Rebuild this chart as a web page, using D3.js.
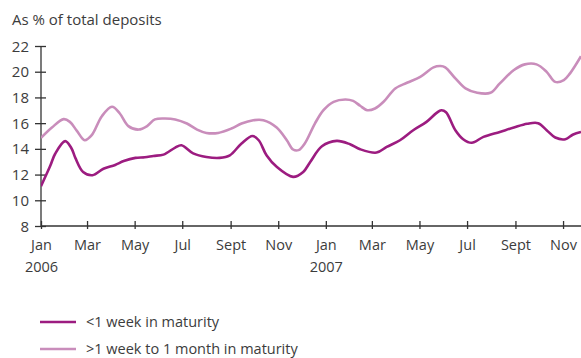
<!DOCTYPE html>
<html lang="en">
<head>
<meta charset="UTF-8">
<title>Deposits by maturity</title>
<script src="https://d3js.org/d3.v7.min.js"></script>
<style>
  body { margin: 0; background: #fff; }
  svg text { font-family: "Open Sans", "Liberation Sans", sans-serif; fill: #3c3c3c; }
  .axis path, .axis line { stroke: #333; stroke-width: 1.3; }
</style>
</head>
<body>
<svg width="581" height="358"></svg>
<script>
// data
const weekDates = ['2006-01-01','2006-01-13','2006-01-19','2006-02-01','2006-02-09','2006-02-14','2006-02-24','2006-03-08',
  '2006-03-22','2006-04-06','2006-04-17','2006-05-02','2006-05-14','2006-05-25','2006-06-07','2006-06-22','2006-06-30',
  '2006-07-15','2006-08-01','2006-08-18','2006-08-31','2006-09-15','2006-09-29','2006-10-07','2006-10-17','2006-10-30',
  '2006-11-20','2006-12-03','2006-12-12','2006-12-27','2007-01-15','2007-02-01','2007-02-14','2007-03-07','2007-03-20',
  '2007-04-06','2007-04-23','2007-05-10','2007-05-23','2007-05-29','2007-06-04','2007-06-16','2007-06-26','2007-07-07','2007-07-22',
  '2007-08-12','2007-08-30','2007-09-16','2007-09-30','2007-10-11','2007-10-22','2007-11-04','2007-11-14','2007-11-24'];
const weekValues = [11.1,12.7,13.6,14.6,14.05,13.3,12.2,11.95,
  12.45,12.75,13.05,13.3,13.35,13.45,13.55,14.1,14.28,
  13.65,13.37,13.3,13.5,14.42,15.0,14.67,13.5,12.6,
  11.82,12.2,12.98,14.2,14.62,14.36,13.97,13.71,14.15,
  14.67,15.45,16.1,16.8,17.0,16.85,15.45,14.75,14.47,14.93,
  15.32,15.66,15.95,16.0,15.45,14.88,14.75,15.12,15.32];

const monthDates = ['2006-01-01','2006-01-15','2006-01-30','2006-02-07','2006-02-16','2006-02-26','2006-03-07','2006-03-20',
  '2006-04-02','2006-04-12','2006-04-23','2006-05-06','2006-05-17','2006-05-27','2006-06-09','2006-06-22','2006-07-07',
  '2006-07-20','2006-08-01','2006-08-16','2006-09-02','2006-09-15','2006-09-30','2006-10-13','2006-10-30','2006-11-12',
  '2006-11-20','2006-11-27','2006-12-05','2006-12-18','2006-12-29','2007-01-11','2007-01-26','2007-02-05','2007-02-14',
  '2007-02-23','2007-03-05','2007-03-16','2007-03-31','2007-04-15','2007-05-02','2007-05-19','2007-05-28','2007-06-03',
  '2007-06-16','2007-06-29','2007-07-14','2007-07-31','2007-08-12','2007-08-30','2007-09-13','2007-09-28','2007-10-11',
  '2007-10-22','2007-11-02','2007-11-10','2007-11-24'];
const monthValues = [14.85,15.66,16.31,16.1,15.4,14.67,15.06,16.54,
  17.27,16.75,15.77,15.5,15.77,16.29,16.36,16.29,15.97,
  15.5,15.24,15.24,15.58,15.97,16.23,16.23,15.66,14.67,
  13.95,13.9,14.42,15.97,17.01,17.66,17.84,17.73,17.35,
  17.01,17.14,17.66,18.7,19.14,19.6,20.34,20.44,20.34,
  19.48,18.7,18.36,18.36,19.09,20.13,20.57,20.57,19.99,
  19.21,19.35,19.87,21.2];

const yTicks = [8, 10, 12, 14, 16, 18, 20, 22];
const xTickDates = ['2006-01-01','2006-03-01','2006-05-01','2006-07-01','2006-09-01','2006-11-01',
  '2007-01-01','2007-03-01','2007-05-01','2007-07-01','2007-09-01','2007-11-01'];
const xTickLabels = ['Jan','Mar','May','Jul','Sept','Nov','Jan','Mar','May','Jul','Sept','Nov'];
const yearLabels = {'2006-01-01': '2006', '2007-01-01': '2007'};
const seriesNames = ['<1 week in maturity', '>1 week to 1 month in maturity'];
const colors = ['#9c1c80', '#c98dbb'];

const parse = d3.timeParse('%Y-%m-%d');
const svg = d3.select('svg');

const x = d3.scaleTime()
  .domain([parse('2006-01-01'), parse('2007-11-24')])
  .range([41, 581]);
const y = d3.scaleLinear()
  .domain([8, 22])
  .range([226, 46]);

// title
svg.append('text')
  .attr('x', 12).attr('y', 24.5)
  .attr('font-size', 15)
  .text('As % of total deposits');

// y axis
const yAxis = svg.append('g')
  .attr('class', 'axis')
  .attr('transform', 'translate(41,0)')
  .call(d3.axisLeft(y).tickValues(yTicks).tickSize(0).tickPadding(12));
yAxis.select('.domain').attr('d', `M0,${y(22)}V${y(8)}`);
yAxis.selectAll('.tick line').attr('x1', -6).attr('x2', 5);
yAxis.selectAll('.tick text').attr('font-size', 15).attr('dy', '0.34em');

// x axis
const xAxis = svg.append('g')
  .attr('class', 'axis')
  .attr('transform', `translate(0,${y(8)})`)
  .call(d3.axisBottom(x)
    .tickValues(xTickDates.map(parse))
    .tickFormat((d, i) => xTickLabels[i])
    .tickSize(0).tickPadding(14));
xAxis.select('.domain').attr('d', `M${x.range()[0]},0H${x.range()[1]}`);
xAxis.selectAll('.tick line').attr('y1', -5).attr('y2', 3);
xAxis.selectAll('.tick text').attr('font-size', 14.5);
xAxis.selectAll('.tick').each(function(d) {
  const key = d3.timeFormat('%Y-%m-%d')(d);
  if (yearLabels[key]) {
    d3.select(this).append('text')
      .attr('y', 36).attr('dy', '0.71em')
      .attr('text-anchor', 'middle')
      .attr('font-size', 14.5)
      .text(yearLabels[key]);
  }
});

// lines
const line = d3.line()
  .x(d => x(d.date))
  .y(d => y(d.value))
  .curve(d3.curveCatmullRom.alpha(0.5));

const series = [
  weekDates.map((d, i) => ({date: parse(d), value: weekValues[i]})),
  monthDates.map((d, i) => ({date: parse(d), value: monthValues[i]}))
];

svg.append('clipPath').attr('id', 'plot')
  .append('rect').attr('x', 41).attr('y', 30).attr('width', 540).attr('height', 200);

// draw lighter series first so the dark one sits on top
[1, 0].forEach(i => {
  svg.append('path')
    .datum(series[i])
    .attr('clip-path', 'url(#plot)')
    .attr('fill', 'none')
    .attr('stroke', colors[i])
    .attr('stroke-width', 2.6)
    .attr('stroke-linejoin', 'round')
    .attr('d', line);
});

// legend
const legend = svg.append('g').attr('transform', 'translate(40,322)');
seriesNames.forEach((name, i) => {
  const g = legend.append('g').attr('transform', `translate(0,${i * 27})`);
  g.append('line')
    .attr('x1', 0).attr('x2', 36)
    .attr('stroke', colors[i]).attr('stroke-width', 2.6);
  g.append('text')
    .attr('x', 46).attr('dy', '0.35em')
    .attr('font-size', 14.5)
    .text(name);
});
</script>
</body>
</html>
